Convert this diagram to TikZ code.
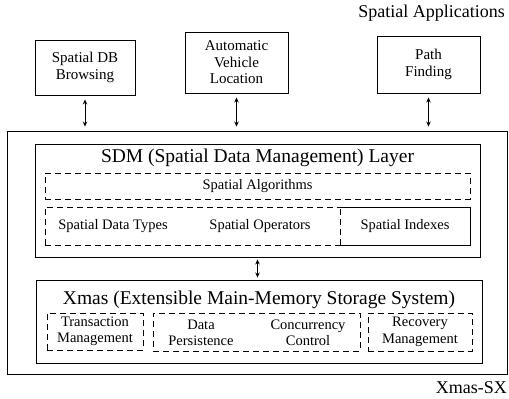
\documentclass[tikz,border=0pt]{standalone}
\usepackage{fontspec}
\setmainfont{Liberation Serif}
\usetikzlibrary{arrows.meta}

\tikzset{
  solidbox/.style={draw, line width=0.9pt, inner sep=0pt, align=center,
    font=\fontsize{15}{16.5}\selectfont},
  dashbox/.style={draw, line width=0.6pt, dash pattern=on 6pt off 4pt,
    inner sep=0pt, align=center, font=\fontsize{14.5}{16.5}\selectfont},
  label/.style={inner sep=0pt, align=center, font=\fontsize{14.5}{16.5}\selectfont},
  title/.style={inner sep=0pt, font=\fontsize{19.5}{21}\selectfont},
  corner/.style={inner sep=0pt, font=\fontsize{18}{20}\selectfont},
  biarrow/.style={line width=0.8pt, {Stealth[length=5pt,width=4.5pt]}-{Stealth[length=5pt,width=4.5pt]}}
}

\begin{document}
\begin{tikzpicture}[x=1pt, y=-1pt]
  \useasboundingbox (0,0) rectangle (509,399);

  % application layer
  \node[corner, anchor=east] (apps) at (505,13) {Spatial Applications};
  \node[solidbox, minimum width=100pt, minimum height=55pt] (app1) at (85,67.5)
    {Spatial DB\\Browsing};
  \node[solidbox, minimum width=103pt, minimum height=61pt] (app2) at (236.5,62.5)
    {Automatic\\Vehicle\\Location};
  \node[solidbox, minimum width=103pt, minimum height=57pt] (app3) at (428.5,64.5)
    {Path\\Finding};

  % Xmas-SX system frame
  \node[draw, line width=0.9pt, inner sep=0pt, minimum width=500pt, minimum height=243pt]
    (sys) at (257.25,252.5) {};
  \node[corner, anchor=east] (sysname) at (507,388) {Xmas-SX};

  \foreach \a in {app1,app2,app3}
    \draw[biarrow, shorten <=4pt, shorten >=4pt] (\a.south) -- (\a.south |- sys.north);

  % spatial data management layer
  \node[solidbox, minimum width=445pt, minimum height=113pt] (sdm) at (257.5,200.5) {};
  \node[title] (sdmtitle) at (257.5,158) {SDM (Spatial Data Management) Layer};
  \node[dashbox, minimum width=425pt, minimum height=26pt] (alg) at (257.5,186)
    {Spatial Algorithms};
  \node[dashbox, minimum width=425pt, minimum height=38pt] (row) at (257.5,226) {};
  \node[label] (types) at (113,226) {Spatial Data Types};
  \node[label] (ops) at (260,226) {Spatial Operators};
  \node[dashbox, minimum width=130pt, minimum height=38pt] (idx) at (405,226)
    {Spatial Indexes};

  % storage layer
  \node[solidbox, minimum width=446pt, minimum height=83pt] (xmas) at (259,321.5) {};
  \node[title] (xmastitle) at (259,300) {Xmas (Extensible Main-Memory Storage System)};
  \node[dashbox, minimum width=96pt, minimum height=37pt] (trans) at (95,331.5)
    {Transaction\\Management};
  \node[dashbox, minimum width=207pt, minimum height=38pt] (mid) at (256.5,332) {};
  \node[label] (persist) at (201,333) {Data\\Persistence};
  \node[label] (conc) at (308,333) {Concurrency\\Control};
  \node[dashbox, minimum width=104pt, minimum height=38pt] (recov) at (420,332)
    {Recovery\\Management};

  \draw[biarrow, shorten <=2pt, shorten >=2pt] (sdm.south) -- (sdm.south |- xmas.north);
\end{tikzpicture}
\end{document}
